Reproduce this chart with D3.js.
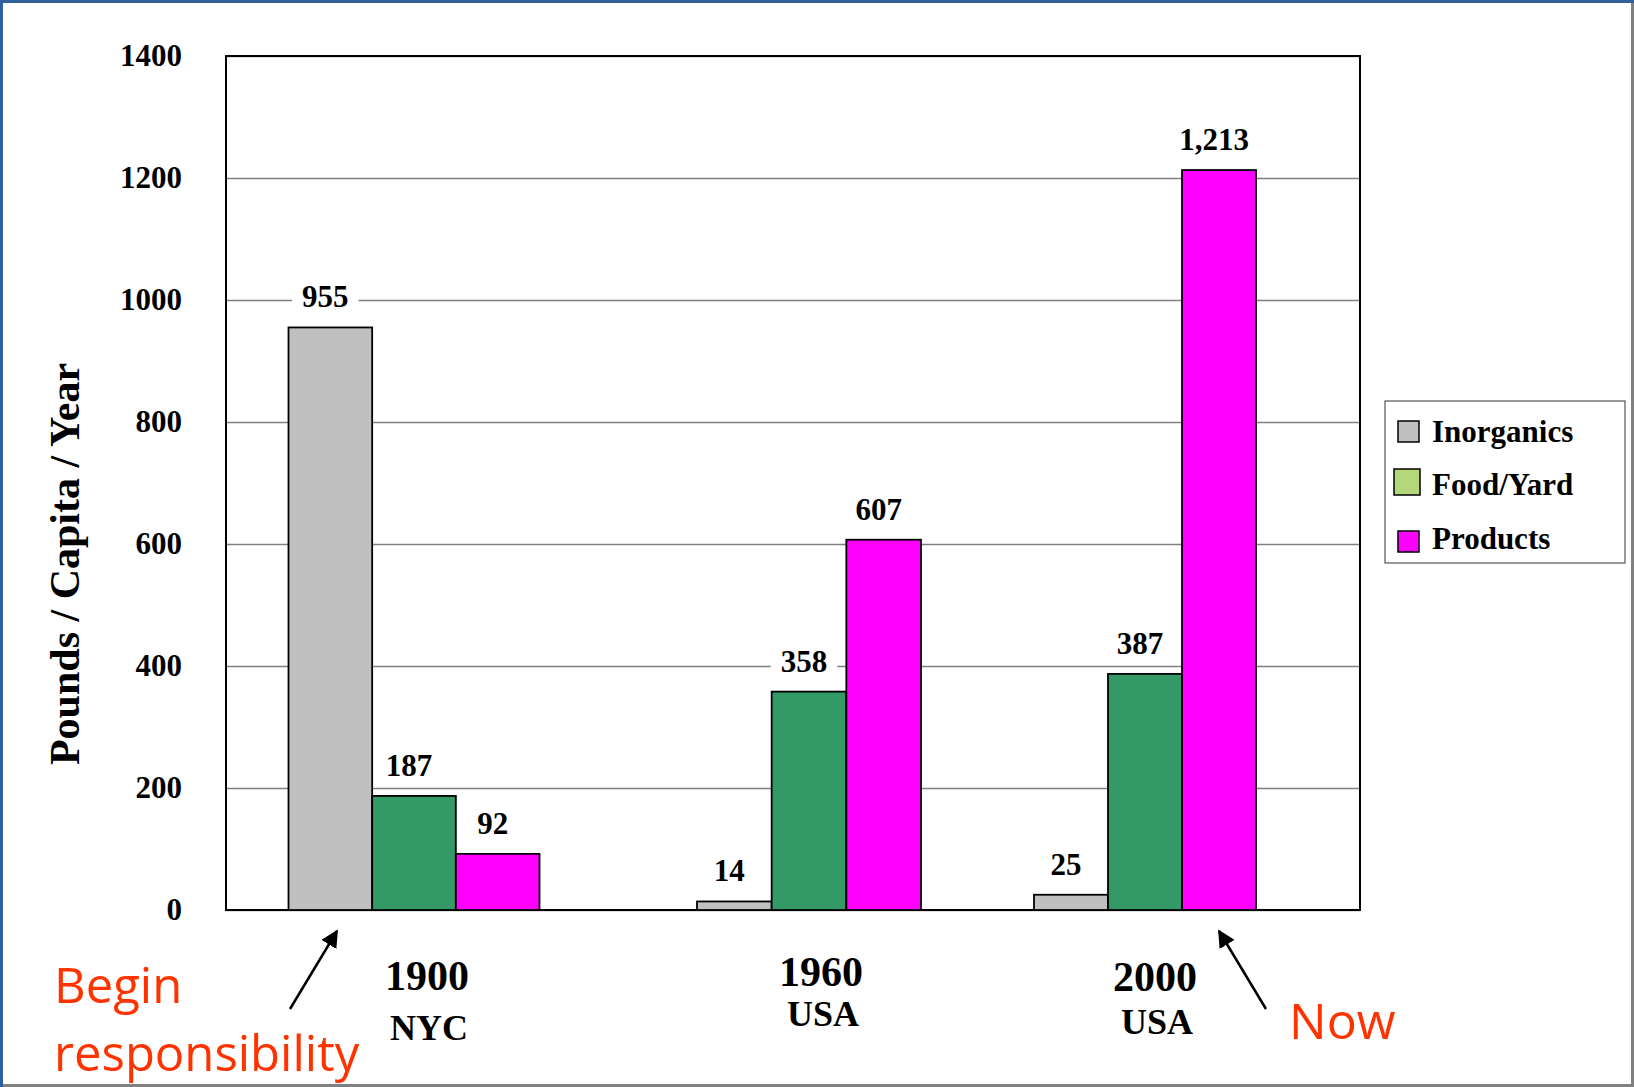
<!DOCTYPE html>
<html>
<head>
<meta charset="utf-8">
<script src="https://cdn.jsdelivr.net/npm/d3@7"></script>
<style>
  html, body { margin: 0; padding: 0; background: #fff; }
  svg { display: block; }
</style>
</head>
<body>
<svg id="chart" width="1634" height="1087"></svg>
<script>
// Municipal waste per person, by era and stream
const groups = ["1900", "1960", "2000"];
const places = ["NYC", "USA", "USA"];
const series = ["Inorganics", "Food/Yard", "Products"];
const inorganics = [955, 14, 25];
const foodYard = [187, 358, 387];
const products = [92, 607, 1213];
const yTicks = [0, 200, 400, 600, 800, 1000, 1200, 1400];

const barColors = ["#C0C0C0", "#339966", "#FF00FF"];
const legendColors = ["#C0C0C0", "#B3D77A", "#FF00FF"];

const W = 1634, H = 1087;
const plot = { left: 226, right: 1360, top: 56, bottom: 910 };
const serif = "'Liberation Serif', 'Times New Roman', serif";
const sans = "'Open Sans', 'Noto Sans', sans-serif";
const accent = "#FF3300";

const svg = d3.select("#chart");

const y = d3.scaleLinear().domain([0, 1400]).range([plot.bottom, plot.top]);

// group centre and group span along x
const xCenter = d3.scaleOrdinal().domain(groups).range([414, 809, 1145]);
const xSpan = d3.scaleOrdinal().domain(groups).range([251, 224, 222]);
const xInner = d3.scaleBand().domain(series).range([0, 1]).padding(0);

const rows = groups.map((g, i) => ({
  group: g,
  place: places[i],
  values: [inorganics[i], foodYard[i], products[i]]
}));

// outer frame
svg.append("rect").attr("x", 0).attr("y", 0).attr("width", W).attr("height", H).attr("fill", "#fff");
svg.append("line").attr("x1", W - 1.5).attr("x2", W - 1.5).attr("y1", 0).attr("y2", H)
  .attr("stroke", "#808080").attr("stroke-width", 3);
svg.append("line").attr("x1", 0).attr("x2", W).attr("y1", H - 1.5).attr("y2", H - 1.5)
  .attr("stroke", "#808080").attr("stroke-width", 3);
svg.append("line").attr("x1", 0).attr("x2", W).attr("y1", 1.5).attr("y2", 1.5)
  .attr("stroke", "#2F609B").attr("stroke-width", 3);
svg.append("line").attr("x1", 1.5).attr("x2", 1.5).attr("y1", 0).attr("y2", H)
  .attr("stroke", "#2F609B").attr("stroke-width", 3);

// horizontal gridlines
const grid = svg.append("g")
  .attr("transform", `translate(${plot.left},0)`)
  .call(d3.axisLeft(y).tickValues(yTicks).tickSize(-(plot.right - plot.left)).tickFormat(""));
grid.select(".domain").remove();
grid.selectAll(".tick line").attr("stroke", "#808080").attr("stroke-width", 1.5);

// tick labels
const yAxis = svg.append("g")
  .attr("transform", `translate(${plot.left},0)`)
  .call(d3.axisLeft(y).tickValues(yTicks).tickSize(0).tickPadding(44).tickFormat(d3.format("d")));
yAxis.select(".domain").remove();
yAxis.selectAll("text")
  .attr("font-family", serif).attr("font-weight", "bold").attr("font-size", 31)
  .attr("fill", "#000");

// plot frame
svg.append("rect")
  .attr("x", plot.left).attr("y", plot.top)
  .attr("width", plot.right - plot.left).attr("height", plot.bottom - plot.top)
  .attr("fill", "none").attr("stroke", "#000").attr("stroke-width", 2);

// bars
const barGroups = svg.selectAll("g.grp").data(rows).join("g").attr("class", "grp");
const fmt = d3.format(",");

barGroups.each(function (d) {
  const g = d3.select(this);
  const span = xSpan(d.group);
  const x0 = xCenter(d.group) - span / 2;
  const items = d.values.map((v, k) => ({
    v, k,
    x: x0 + xInner(series[k]) * span,
    w: xInner.bandwidth() * span
  }));
  g.selectAll("rect.bar").data(items).join("rect").attr("class", "bar")
    .attr("x", e => e.x).attr("width", e => e.w)
    .attr("y", e => y(e.v)).attr("height", e => y(0) - y(e.v))
    .attr("fill", e => barColors[e.k])
    .attr("stroke", "#000").attr("stroke-width", 1.8);
});

// value labels with white backing
barGroups.each(function (d) {
  const g = d3.select(this);
  const span = xSpan(d.group);
  const x0 = xCenter(d.group) - span / 2;
  d.values.forEach((v, k) => {
    const cx = x0 + (xInner(series[k]) + xInner.bandwidth() / 2) * span - 5;
    const by = y(v) - 20;
    const t = g.append("text")
      .attr("x", cx).attr("y", by)
      .attr("text-anchor", "middle")
      .attr("font-family", serif).attr("font-weight", "bold").attr("font-size", 31)
      .attr("fill", "#000")
      .text(fmt(v));
    const bb = t.node().getBBox();
    g.insert("rect", "text")
      .attr("x", bb.x - 10).attr("y", bb.y - 2)
      .attr("width", bb.width + 20).attr("height", bb.height + 4)
      .attr("fill", "#fff");
  });
});

// category labels below the axis
const catX = d3.scaleOrdinal().domain(groups).range([427, 821, 1155]);
const catY = d3.scaleOrdinal().domain(groups).range([990, 986, 991]);
const subY = d3.scaleOrdinal().domain(groups).range([1040, 1026, 1034]);
rows.forEach(d => {
  svg.append("text")
    .attr("x", catX(d.group)).attr("y", catY(d.group))
    .attr("text-anchor", "middle")
    .attr("font-family", serif).attr("font-weight", "bold").attr("font-size", 42)
    .text(d.group);
  svg.append("text")
    .attr("x", catX(d.group) + 2).attr("y", subY(d.group))
    .attr("text-anchor", "middle")
    .attr("font-family", serif).attr("font-weight", "bold").attr("font-size", 36)
    .text(d.place);
});

// y-axis title
svg.append("text")
  .attr("transform", "translate(79,564) rotate(-90)")
  .attr("text-anchor", "middle")
  .attr("font-family", serif).attr("font-weight", "bold").attr("font-size", 42)
  .text("Pounds / Capita / Year");

// legend
const legend = svg.append("g");
legend.append("rect")
  .attr("x", 1385).attr("y", 401).attr("width", 240).attr("height", 162)
  .attr("fill", "#fff").attr("stroke", "#555").attr("stroke-width", 1.2);
const legendRows = [
  { sx: 1398, sy: 421, s: 21, ty: 442 },
  { sx: 1394, sy: 469, s: 26, ty: 495 },
  { sx: 1398, sy: 531, s: 21, ty: 549 }
];
series.forEach((name, k) => {
  const r = legendRows[k];
  legend.append("rect")
    .attr("x", r.sx).attr("y", r.sy).attr("width", r.s).attr("height", r.s)
    .attr("fill", legendColors[k]).attr("stroke", "#000").attr("stroke-width", 1.5);
  legend.append("text")
    .attr("x", 1432).attr("y", r.ty)
    .attr("font-family", serif).attr("font-weight", "bold").attr("font-size", 31)
    .text(name);
});

// annotations
const defs = svg.append("defs");
defs.append("marker")
  .attr("id", "head").attr("viewBox", "0 0 10 10")
  .attr("refX", 9).attr("refY", 5)
  .attr("markerWidth", 7).attr("markerHeight", 7)
  .attr("markerUnits", "strokeWidth")
  .attr("orient", "auto")
  .append("path").attr("d", "M0,0 L10,5 L0,10 Z").attr("fill", "#000");

svg.append("line")
  .attr("x1", 290).attr("y1", 1009).attr("x2", 337).attr("y2", 931)
  .attr("stroke", "#000").attr("stroke-width", 2.5).attr("marker-end", "url(#head)");
svg.append("line")
  .attr("x1", 1266).attr("y1", 1009).attr("x2", 1219).attr("y2", 931)
  .attr("stroke", "#000").attr("stroke-width", 2.5).attr("marker-end", "url(#head)");

// two-line note
svg.append("text")
  .attr("x", 54).attr("y", 1003)
  .attr("font-family", sans).attr("font-size", 49).attr("fill", accent)
  .text("Begin");
svg.append("text")
  .attr("x", 54).attr("y", 1071)
  .attr("font-family", sans).attr("font-size", 49).attr("fill", accent)
  .text("responsibility");

svg.append("text")
  .attr("x", 1289).attr("y", 1039)
  .attr("font-family", sans).attr("font-size", 50).attr("fill", accent)
  .text("Now");
</script>
</body>
</html>
